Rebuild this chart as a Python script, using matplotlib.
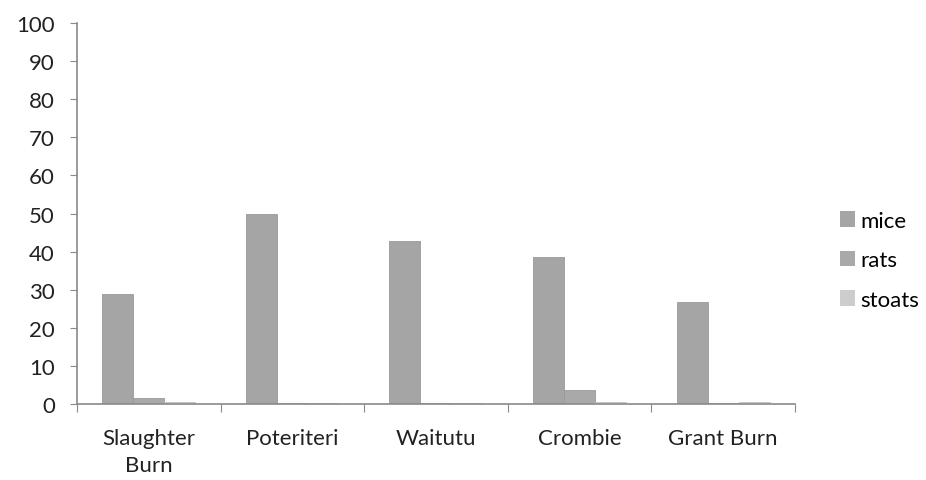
import matplotlib
matplotlib.use("Agg")
import matplotlib.pyplot as plt
import numpy as np

sites = ["Slaughter\nBurn", "Poteriteri", "Waitutu", "Crombie", "Grant Burn"]
mice = [28.8, 50.0, 42.8, 38.6, 26.9]
rats = [1.5, 0.3, 0.3, 3.7, 0.2]
stoats = [0.4, 0.3, 0.3, 0.4, 0.4]
y_ticks = [0, 10, 20, 30, 40, 50, 60, 70, 80, 90, 100]

plt.rcParams["font.family"] = ["Lato", "DejaVu Sans"]

fig = plt.figure(figsize=(9.26, 4.81), dpi=100)
ax = fig.add_axes([0.0832, 0.158, 0.7753, 0.792])

x = np.arange(len(sites))
w = 0.216
series = [("mice", mice, "#a5a5a5"), ("rats", rats, "#a9a9a9"), ("stoats", stoats, "#cdcdcd")]
for i, (name, vals, col) in enumerate(series):
    ax.bar(x + (i - 1) * w, vals, width=w, color=col, label=name,
           edgecolor="#9a9a9a" if name != "stoats" else "#c0c0c0", linewidth=0.6)

ax.set_xlim(-0.5, len(sites) - 0.5)
ax.set_ylim(0, 100)
ax.set_yticks(y_ticks)
ax.tick_params(axis="y", direction="out", length=5, color="#8a8a8a", labelsize=16,
               labelcolor="#222222", pad=11)
ax.set_xticks(np.arange(-0.5, len(sites), 1.0))
ax.set_xticklabels([])
ax.set_xticks(x, minor=True)
ax.set_xticklabels(sites, minor=True, fontsize=16, color="#222222", linespacing=1.45)
ax.tick_params(axis="x", which="major", direction="out", length=6, color="#8a8a8a")
ax.tick_params(axis="x", which="minor", length=0, pad=17)

for s in ["top", "right"]:
    ax.spines[s].set_visible(False)
for s in ["left", "bottom"]:
    ax.spines[s].set_color("#8a8a8a")
    ax.spines[s].set_linewidth(1.2)

handles, labels = ax.get_legend_handles_labels()
leg = fig.legend(handles, labels, loc="center left", bbox_to_anchor=(0.885, 0.457),
                 frameon=False, fontsize=16, handlelength=0.7, handleheight=0.7,
                 handletextpad=0.25, labelspacing=0.88)
for h in leg.legend_handles:
    h.set_linewidth(0)

fig.savefig("out.png", dpi=100, facecolor="white")
